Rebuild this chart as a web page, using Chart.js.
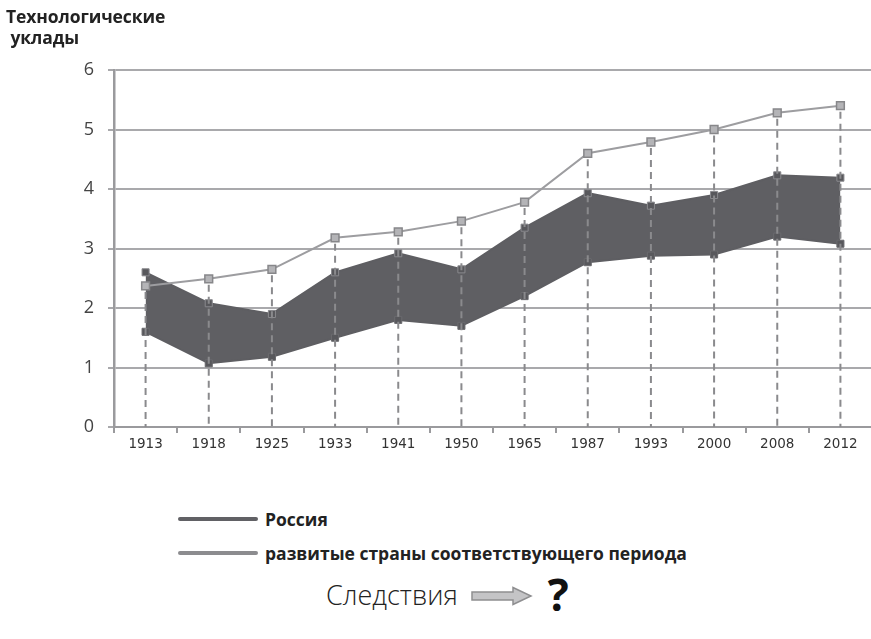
<!DOCTYPE html>
<html lang="ru">
<head>
<meta charset="utf-8">
<title>Технологические уклады</title>
<script src="https://cdn.jsdelivr.net/npm/chart.js@4.4.0/dist/chart.umd.min.js"></script>
<style>
  html, body { margin: 0; padding: 0; background: #fff; }
  #wrap { position: relative; width: 871px; height: 639px; overflow: hidden; font-family: "Open Sans", "Noto Sans", sans-serif; }
  #chart { position: absolute; left: 0; top: 0; }
  .title { position: absolute; left: 6px; top: 6px; font-weight: 700; font-size: 17.5px; line-height: 21px; color: #222; letter-spacing: -0.1px; }
  .legend { position: absolute; left: 178px; font-weight: 700; font-size: 17.5px; color: #222; display: flex; align-items: center; height: 24px; letter-spacing: 0px; }
  .legend i { display: inline-block; width: 80px; height: 4px; border-radius: 2px; margin-right: 7px; }
  .footer { position: absolute; left: 326px; top: 572px; display: flex; align-items: center; height: 44px; }
  .footer .word { font-size: 27px; font-weight: 300; color: #222; }
  .footer .q { font-size: 44px; font-weight: 700; color: #111; margin-left: 14px; line-height: 44px; }
</style>
</head>
<body>
<div id="wrap">
  <canvas id="chart" width="879" height="470"></canvas>
  <div class="title">Технологические<br>&nbsp;уклады</div>
  <div class="legend" style="top:507px"><i style="background:#616165"></i>Россия</div>
  <div class="legend" style="top:541px"><i style="background:#8c8c8f"></i>развитые страны соответствующего периода</div>
  <div class="footer">
    <span class="word">Следствия</span>
    <svg width="64" height="20" viewBox="0 0 64 20" style="margin-left:12px; margin-top:4px">
      <path d="M2 6 H43 V1.5 L61 10 L43 18.5 V14 H2 Z" fill="#c4c4c6" stroke="#8e8e90" stroke-width="1.5"/>
    </svg>
    <span class="q">?</span>
  </div>
</div>
<script>
// Periods on the horizontal axis
const years = ['1913', '1918', '1925', '1933', '1941', '1950', '1965', '1987', '1993', '2000', '2008', '2012'];

// Russia: upper and lower bounds of the technological order level
const russiaHigh = [2.6, 2.08, 1.9, 2.6, 2.92, 2.65, 3.35, 3.93, 3.72, 3.9, 4.23, 4.19];
const russiaLow  = [1.6, 1.07, 1.18, 1.5, 1.8, 1.7, 2.2, 2.77, 2.88, 2.9, 3.2, 3.08];

// Developed countries of the corresponding period
const developed = [2.37, 2.49, 2.65, 3.18, 3.28, 3.46, 3.78, 4.6, 4.79, 5.0, 5.28, 5.4];

// Y-axis range and step
const yTicks = [0, 1, 2, 3, 4, 5, 6];

// Dashed drop lines from the developed-countries markers down to zero
const dropLines = {
  id: 'dropLines',
  afterDatasetsDraw(chart) {
    const meta = chart.getDatasetMeta(2);
    const y = chart.scales.y;
    const ctx = chart.ctx;
    ctx.save();
    ctx.strokeStyle = '#8a8a8d';
    ctx.lineWidth = 2;
    ctx.setLineDash([7, 5]);
    meta.data.forEach((pt) => {
      ctx.beginPath();
      ctx.moveTo(pt.x, pt.y + 6);
      ctx.lineTo(pt.x, y.getPixelForValue(0));
      ctx.stroke();
    });
    ctx.restore();
  }
};

new Chart(document.getElementById('chart'), {
  type: 'line',
  data: {
    labels: years,
    datasets: [
      {
        label: 'Россия (макс.)',
        data: russiaHigh,
        borderColor: '#5e5e62',
        backgroundColor: '#5e5e62',
        borderWidth: 2,
        pointStyle: 'rect',
        pointRadius: 5,
        pointBackgroundColor: '#58585c',
        pointBorderColor: '#8a8a8e',
        pointBorderWidth: 1,
        tension: 0,
        fill: false,
        order: 2
      },
      {
        label: 'Россия (мин.)',
        data: russiaLow,
        borderColor: '#5e5e62',
        backgroundColor: '#5f5f63',
        borderWidth: 2,
        pointStyle: 'rect',
        pointRadius: 5,
        pointBackgroundColor: '#58585c',
        pointBorderColor: '#6a6a6e',
        pointBorderWidth: 1,
        tension: 0,
        fill: '-1',
        order: 2
      },
      {
        label: 'развитые страны соответствующего периода',
        data: developed,
        borderColor: '#9d9da0',
        borderWidth: 2,
        pointStyle: 'rect',
        pointRadius: 5.5,
        pointBackgroundColor: '#b4b4b7',
        pointBorderColor: '#87878a',
        pointBorderWidth: 1.5,
        tension: 0,
        fill: false,
        order: 1
      }
    ]
  },
  options: {
    responsive: false,
    devicePixelRatio: 1,
    animation: false,
    layout: { padding: { left: 0, right: 1, top: 70, bottom: 0 } },
    plugins: {
      legend: { display: false },
      tooltip: { enabled: false }
    },
    scales: {
      x: {
        offset: true,
        grid: {
          offset: true,
          drawOnChartArea: false,
          drawTicks: true,
          tickLength: 6,
          color: '#9a9a9d',
          lineWidth: 2
        },
        border: { color: '#9a9a9d', width: 2 },
        ticks: {
          color: '#333',
          font: { family: 'DejaVu Sans', size: 13.5 },
          padding: 3,
          maxRotation: 0,
          autoSkip: false
        },
        afterFit(scale) {
          scale.height = 43;
          scale.paddingLeft = 0;
          scale.paddingRight = 0;
        }
      },
      y: {
        min: yTicks[0],
        max: yTicks[yTicks.length - 1],
        afterBuildTicks(scale) { scale.ticks = yTicks.map(v => ({ value: v })); },
        grid: {
          color: '#a9a9ac',
          lineWidth: 2,
          drawTicks: true,
          tickLength: 6
        },
        border: { color: '#9a9a9d', width: 2.5 },
        ticks: {
          color: '#444',
          font: { family: 'Open Sans', size: 18 },
          padding: 14
        },
        afterFit(scale) { scale.width = 114; }
      }
    }
  },
  plugins: [dropLines]
});
</script>
</body>
</html>
